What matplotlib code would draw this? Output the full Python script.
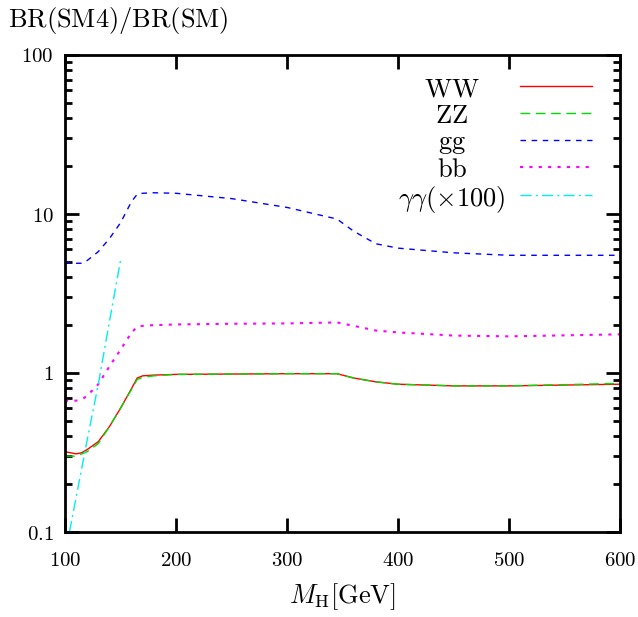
import numpy as np
import matplotlib
matplotlib.use("Agg")
import matplotlib.pyplot as plt
from matplotlib.lines import Line2D
from matplotlib.ticker import FixedLocator, NullFormatter, LogLocator

plt.rcParams['mathtext.fontset'] = 'cm'
plt.rcParams['font.family'] = 'serif'
plt.rcParams['font.serif'] = ['DejaVu Serif']

# values
mh = [100, 110, 115, 120, 130, 140, 150, 160, 165, 170, 180, 200, 250, 300, 345, 360, 380, 400, 450, 500, 600]
ww = [0.32, 0.31, 0.315, 0.33, 0.37, 0.46, 0.60, 0.80, 0.93, 0.96, 0.97, 0.98, 0.985, 0.99, 0.99, 0.93, 0.88, 0.85, 0.83, 0.83, 0.85]
zz = [0.30, 0.30, 0.31, 0.32, 0.36, 0.46, 0.60, 0.79, 0.91, 0.94, 0.96, 0.98, 0.985, 0.99, 0.99, 0.93, 0.88, 0.85, 0.83, 0.83, 0.86]
gg = [5.0, 4.9, 4.9, 5.1, 5.8, 7.0, 8.8, 12.0, 13.3, 13.5, 13.6, 13.5, 12.5, 11.0, 9.3, 7.8, 6.5, 6.1, 5.7, 5.5, 5.5]
bb = [0.67, 0.67, 0.68, 0.72, 0.85, 1.1, 1.4, 1.8, 1.95, 1.98, 2.0, 2.02, 2.04, 2.05, 2.08, 1.98, 1.85, 1.8, 1.72, 1.7, 1.75]
mh_aa = [104, 110, 120, 130, 140, 150]
aa = [0.1, 0.165, 0.38, 0.85, 2.1, 5.1]

xticks = [100, 200, 300, 400, 500, 600]
yticks = [0.1, 1, 10, 100]
ytick_labels = ['0.1', '1', '10', '100']

fig = plt.figure(figsize=(6.38, 6.17), dpi=100)
ax = fig.add_axes([65/638, 85/617, 555/638, 477/617])

series = [
    (mh, ww, r'$\mathrm{WW}$', dict(color='#ff0000', lw=1.0)),
    (mh, zz, r'$\mathrm{ZZ}$', dict(color='#00dd00', lw=1.0, dashes=(7, 4))),
    (mh, gg, r'$\mathrm{gg}$', dict(color='#0000ff', lw=1.0, dashes=(4, 4))),
    (mh, bb, r'$\mathrm{bb}$', dict(color='#ff00ff', lw=1.5, dashes=(1.5, 3))),
    (mh_aa, aa, r'$\gamma\gamma(\times100)$', dict(color='#00eeee', lw=1.0, dashes=(8, 3, 1.5, 3))),
]

# gnuplot-like key: centred labels, samples to the right
key_y = [0.935, 0.878, 0.822, 0.765, 0.706]
for (xs, ys, lab, st), ky in zip(series, key_y):
    ax.plot(xs, ys, **st)
    ax.text(0.697, ky, lab, transform=ax.transAxes, ha='center', va='center_baseline', fontsize=19)
    ax.add_line(Line2D([0.82, 0.95], [ky, ky], transform=ax.transAxes, **st))

ax.set_yscale('log')
ax.set_xlim(100, 600)
ax.set_ylim(0.1, 100)
ax.set_xticks(xticks)
ax.set_xticklabels([r'$\mathrm{%d}$' % t for t in xticks])
ax.yaxis.set_major_locator(FixedLocator(yticks))
ax.set_yticklabels([r'$\mathrm{%s}$' % s for s in ytick_labels])
ax.yaxis.set_minor_locator(LogLocator(base=10, subs=np.arange(2, 10)))
ax.yaxis.set_minor_formatter(NullFormatter())

for sp in ax.spines.values():
    sp.set_linewidth(2)
ax.tick_params(which='major', direction='in', length=10, width=2, top=True, right=True,
               labelsize=15, pad=8)
ax.tick_params(which='minor', direction='in', length=5, width=2, top=True, right=True)
ax.tick_params(axis='x', pad=14)

ax.set_xlabel(r'$M_{\mathrm{H}}[\mathrm{GeV}]$', fontsize=19, labelpad=8)
fig.text(8/638, 1 - 21/617, r'$\mathrm{BR(SM4)/BR(SM)}$', fontsize=19, va='center', ha='left')

fig.savefig('out.png', dpi=100)
